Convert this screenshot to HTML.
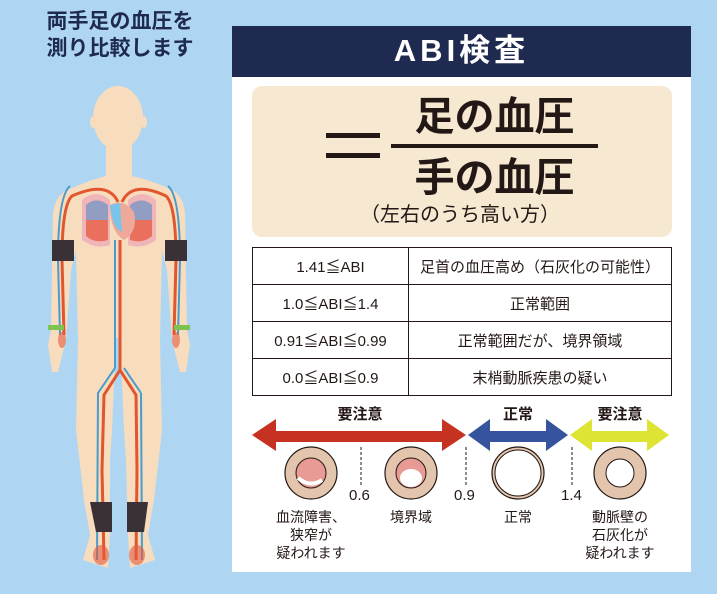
<!DOCTYPE html><html><head><meta charset="utf-8"><style>
body{margin:0;width:717px;height:594px;background:#aed6f2;position:relative;overflow:hidden;font-family:"Liberation Sans","Noto Sans CJK JP",sans-serif;color:#231815}
.a{position:absolute}
.t{position:absolute;text-align:center;white-space:nowrap}
table{border-collapse:collapse;position:absolute;left:252px;top:247px;width:420px}
td{border:1.5px solid #231815;height:36px;text-align:center;font-size:15px;padding:0}
</style></head><body>
<div class="t" style="left:0;top:8px;width:240px;font-size:21px;font-weight:bold;color:#1e2a4f;line-height:27px">両手足の血圧を<br>測り比較します</div>
<svg class="a" style="left:0;top:0" width="240" height="594">
<g fill="#f7dcbd">
<ellipse cx="118" cy="118" rx="25" ry="32"/>
<ellipse cx="93" cy="122" rx="3" ry="6"/><ellipse cx="144" cy="122" rx="3" ry="6"/>
<rect x="106" y="140" width="26" height="40"/>
<path d="M72 188 Q90 180 106 176 L132 176 Q150 180 168 188 Q184 194 185 215 L187 330 L190 345 L186 372 L180 372 L172 340 L167 270 L162 250 L160 340 L162 430 L154 500 L148 535 L155 560 L130 568 L128 535 L126 460 L124 430 L120 338 L116 338 L112 430 L110 460 L110 535 L108 568 L83 560 L90 535 L84 500 L76 430 L78 340 L76 250 L71 270 L66 340 L58 372 L52 372 L48 345 L51 330 L53 215 Q54 194 72 188Z"/>
</g>
<path d="M82 200 Q96 188 110 200 L110 245 Q96 250 82 240Z M156 200 Q142 188 128 200 L128 245 Q142 250 156 240Z" fill="#f0b5b8"/>
<path d="M86 205 Q96 196 108 205 L108 240 Q95 244 86 236Z M152 205 Q142 196 130 205 L130 240 Q143 244 152 236Z" fill="#e55a3d" opacity=".75"/>
<path d="M86 205 Q96 196 108 205 L108 220 L86 220Z M152 205 Q142 196 130 205 L130 220 L152 220Z" fill="#7aa9dc" opacity=".8"/>
<path d="M110 205 Q124 198 134 212 Q138 232 124 240 Q110 232 110 205Z" fill="#eea99a"/>
<path d="M110 205 L120 203 L122 232 Q112 228 110 205Z" fill="#7ac4ea"/>
<path d="M120 240 L120 370 L104 395 L102 470 L104 560 M120 240 L120 370 L136 395 L137 470 L136 560 M118 202 Q108 180 72 196 Q62 205 62 260 L64 335 M122 202 Q132 180 166 196 Q176 205 176 260 L174 335" stroke="#e0562e" stroke-width="3" fill="none"/>
<path d="M115 240 L115 368 L98 393 L97 560 M141 393 L142 560 M124 368 L141 393 M70 186 Q58 196 58 260 L60 335 M168 186 Q180 196 180 260 L178 335" stroke="#4a9ccc" stroke-width="2" fill="none"/>
<rect x="52" y="240" width="22" height="21" fill="#3a3136"/><rect x="165" y="240" width="22" height="21" fill="#3a3136"/>
<rect x="48" y="325" width="16" height="5" fill="#7ec34f"/><rect x="174" y="325" width="16" height="5" fill="#7ec34f"/>
<path d="M90 502 L112 502 L112 532 L96 532Z M127 502 L148 502 L144 532 L127 532Z" fill="#3a3136"/>
<ellipse cx="101" cy="555" rx="8" ry="10" fill="#e55a3d" opacity=".6"/><ellipse cx="137" cy="555" rx="8" ry="10" fill="#e55a3d" opacity=".6"/>
<ellipse cx="62" cy="340" rx="4" ry="8" fill="#e55a3d" opacity=".6"/><ellipse cx="176" cy="340" rx="4" ry="8" fill="#e55a3d" opacity=".6"/>
</svg>
<div class="a" style="left:232px;top:26px;width:459px;height:546px;background:#fff"></div>
<div class="a" style="left:232px;top:26px;width:459px;height:51px;background:#1e2a4f"></div>
<div class="t" style="left:232px;top:28px;width:459px;font-size:31px;font-weight:bold;color:#fff;letter-spacing:4px;line-height:46px">ABI検査</div>
<div class="a" style="left:252px;top:86px;width:420px;height:151px;background:#f6e8d1;border-radius:10px"></div>
<div class="a" style="left:326px;top:133px;width:54px;height:5px;background:#231815"></div>
<div class="a" style="left:326px;top:153px;width:54px;height:5px;background:#231815"></div>
<div class="a" style="left:391px;top:144px;width:207px;height:4px;background:#231815"></div>
<div class="t" style="left:391px;top:94px;width:207px;font-size:40px;font-weight:bold;line-height:46px">足の血圧</div>
<div class="t" style="left:391px;top:155px;width:207px;font-size:40px;font-weight:bold;line-height:46px">手の血圧</div>
<div class="t" style="left:340px;top:202px;width:240px;font-size:20px;line-height:26px">（左右のうち高い方）</div>
<table>
<tr><td style="width:155px">1.41≦ABI</td><td>足首の血圧高め（石灰化の可能性）</td></tr>
<tr><td>1.0≦ABI≦1.4</td><td>正常範囲</td></tr>
<tr><td>0.91≦ABI≦0.99</td><td>正常範囲だが、境界領域</td></tr>
<tr><td>0.0≦ABI≦0.9</td><td>末梢動脈疾患の疑い</td></tr>
</table>
<svg class="a" style="left:0;top:0" width="717" height="594">
<polygon points="252,435 276,419 276,431 442,431 442,419 466,435 442,451 442,442 276,442 276,451" fill="#c63221"/>
<polygon points="468,435 490,419 490,431 546,431 546,419 568,435 546,451 546,442 490,442 490,451" fill="#36539d"/>
<polygon points="570,435 592,419 592,431 647,431 647,419 669,435 647,451 647,442 592,442 592,451" fill="#dde434"/>
<g stroke="#231815" stroke-width="1" stroke-dasharray="3,2"><line x1="361" y1="447" x2="361" y2="485"/><line x1="466" y1="447" x2="466" y2="485"/><line x1="572" y1="447" x2="572" y2="485"/></g>
<g stroke="#231815" stroke-width="1.2" fill="#e3c4ad">
<circle cx="311" cy="473" r="26"/><circle cx="411" cy="473" r="26"/><circle cx="518" cy="473" r="26"/><circle cx="620" cy="473" r="26"/></g>
<circle cx="311" cy="473" r="15" fill="#e89a95" stroke="#231815"/><path d="M298 478 Q310 488 322 480" stroke="#fff" stroke-width="4" fill="none"/>
<circle cx="411" cy="473" r="15" fill="#e89a95" stroke="#231815"/><ellipse cx="411" cy="478" rx="11" ry="9" fill="#fff"/>
<circle cx="518" cy="473" r="23" fill="#fff" stroke="#231815"/>
<circle cx="620" cy="473" r="14" fill="#fff" stroke="#231815"/>
<g font-family="Liberation Sans,sans-serif" font-size="15" fill="#231815"><text x="349" y="500">0.6</text><text x="454" y="500">0.9</text><text x="561" y="500">1.4</text></g>
</svg>
<div class="t" style="left:320px;top:403px;width:80px;font-size:15px;font-weight:bold">要注意</div>
<div class="t" style="left:490px;top:403px;width:56px;font-size:15px;font-weight:bold">正常</div>
<div class="t" style="left:590px;top:403px;width:60px;font-size:15px;font-weight:bold">要注意</div>
<div class="t" style="left:271px;top:508px;width:80px;font-size:14px;line-height:18px">血流障害、<br>狭窄が<br>疑われます</div>
<div class="t" style="left:371px;top:508px;width:80px;font-size:14px;line-height:18px">境界域</div>
<div class="t" style="left:478px;top:508px;width:80px;font-size:14px;line-height:18px">正常</div>
<div class="t" style="left:580px;top:508px;width:80px;font-size:14px;line-height:18px">動脈壁の<br>石灰化が<br>疑われます</div>
</body></html>
